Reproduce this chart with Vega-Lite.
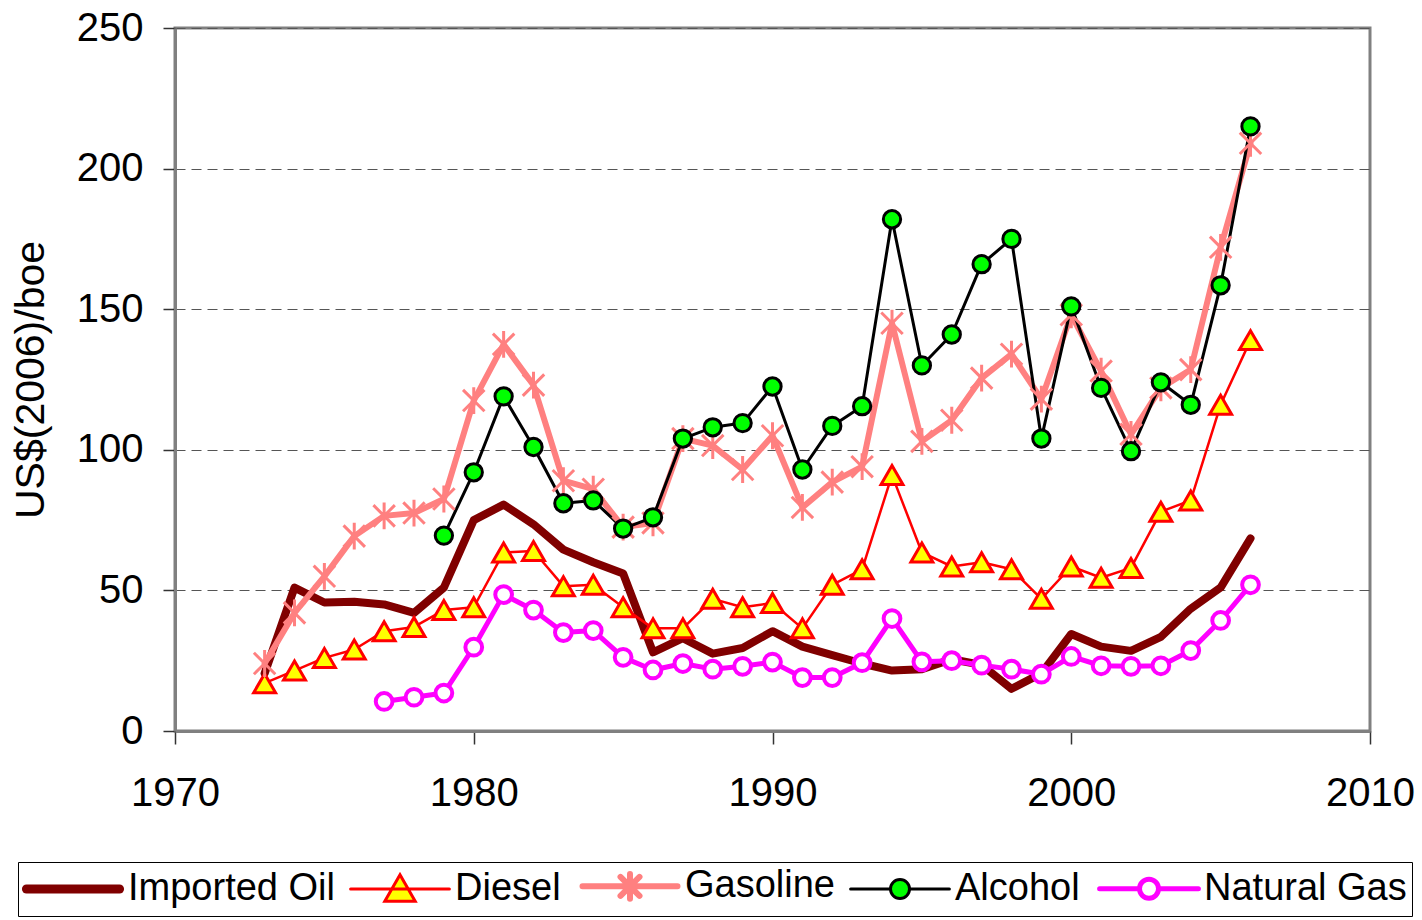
{
  "$schema": "https://vega.github.io/schema/vega-lite/v6.json",
  "width": 1195,
  "height": 703,
  "autosize": {"type": "none"},
  "padding": {"left": 175, "top": 28, "right": 52, "bottom": 189},
  "background": "white",
  "data": {
    "values": [
      {"year": 1973, "fuel": "Imported Oil", "value": 20.5},
      {"year": 1974, "fuel": "Imported Oil", "value": 51},
      {"year": 1975, "fuel": "Imported Oil", "value": 45.7},
      {"year": 1976, "fuel": "Imported Oil", "value": 46},
      {"year": 1977, "fuel": "Imported Oil", "value": 45},
      {"year": 1978, "fuel": "Imported Oil", "value": 42},
      {"year": 1979, "fuel": "Imported Oil", "value": 51},
      {"year": 1980, "fuel": "Imported Oil", "value": 75},
      {"year": 1981, "fuel": "Imported Oil", "value": 80.5},
      {"year": 1982, "fuel": "Imported Oil", "value": 73.5},
      {"year": 1983, "fuel": "Imported Oil", "value": 64.5},
      {"year": 1984, "fuel": "Imported Oil", "value": 60},
      {"year": 1985, "fuel": "Imported Oil", "value": 56},
      {"year": 1986, "fuel": "Imported Oil", "value": 28},
      {"year": 1987, "fuel": "Imported Oil", "value": 33},
      {"year": 1988, "fuel": "Imported Oil", "value": 27.5},
      {"year": 1989, "fuel": "Imported Oil", "value": 29.5},
      {"year": 1990, "fuel": "Imported Oil", "value": 35.5},
      {"year": 1991, "fuel": "Imported Oil", "value": 30},
      {"year": 1992, "fuel": "Imported Oil", "value": 27},
      {"year": 1993, "fuel": "Imported Oil", "value": 24},
      {"year": 1994, "fuel": "Imported Oil", "value": 21.5},
      {"year": 1995, "fuel": "Imported Oil", "value": 22},
      {"year": 1996, "fuel": "Imported Oil", "value": 25.5},
      {"year": 1997, "fuel": "Imported Oil", "value": 23.5},
      {"year": 1998, "fuel": "Imported Oil", "value": 15},
      {"year": 1999, "fuel": "Imported Oil", "value": 20.5},
      {"year": 2000, "fuel": "Imported Oil", "value": 34.5},
      {"year": 2001, "fuel": "Imported Oil", "value": 30},
      {"year": 2002, "fuel": "Imported Oil", "value": 28.5},
      {"year": 2003, "fuel": "Imported Oil", "value": 33.5},
      {"year": 2004, "fuel": "Imported Oil", "value": 43.5},
      {"year": 2005, "fuel": "Imported Oil", "value": 51},
      {"year": 2006, "fuel": "Imported Oil", "value": 68.5},
      {"year": 1973, "fuel": "Diesel", "value": 17},
      {"year": 1974, "fuel": "Diesel", "value": 21.5},
      {"year": 1975, "fuel": "Diesel", "value": 26},
      {"year": 1976, "fuel": "Diesel", "value": 29},
      {"year": 1977, "fuel": "Diesel", "value": 35.5},
      {"year": 1978, "fuel": "Diesel", "value": 37},
      {"year": 1979, "fuel": "Diesel", "value": 43},
      {"year": 1980, "fuel": "Diesel", "value": 44},
      {"year": 1981, "fuel": "Diesel", "value": 63.5},
      {"year": 1982, "fuel": "Diesel", "value": 64},
      {"year": 1983, "fuel": "Diesel", "value": 51.5},
      {"year": 1984, "fuel": "Diesel", "value": 52},
      {"year": 1985, "fuel": "Diesel", "value": 44},
      {"year": 1986, "fuel": "Diesel", "value": 36.5},
      {"year": 1987, "fuel": "Diesel", "value": 36.5},
      {"year": 1988, "fuel": "Diesel", "value": 47},
      {"year": 1989, "fuel": "Diesel", "value": 44},
      {"year": 1990, "fuel": "Diesel", "value": 45.5},
      {"year": 1991, "fuel": "Diesel", "value": 36.5},
      {"year": 1992, "fuel": "Diesel", "value": 52},
      {"year": 1993, "fuel": "Diesel", "value": 57.5},
      {"year": 1994, "fuel": "Diesel", "value": 91},
      {"year": 1995, "fuel": "Diesel", "value": 63.5},
      {"year": 1996, "fuel": "Diesel", "value": 58.5},
      {"year": 1997, "fuel": "Diesel", "value": 60},
      {"year": 1998, "fuel": "Diesel", "value": 57.5},
      {"year": 1999, "fuel": "Diesel", "value": 47},
      {"year": 2000, "fuel": "Diesel", "value": 58.5},
      {"year": 2001, "fuel": "Diesel", "value": 54.5},
      {"year": 2002, "fuel": "Diesel", "value": 58},
      {"year": 2003, "fuel": "Diesel", "value": 78},
      {"year": 2004, "fuel": "Diesel", "value": 82},
      {"year": 2005, "fuel": "Diesel", "value": 116},
      {"year": 2006, "fuel": "Diesel", "value": 139},
      {"year": 1973, "fuel": "Gasoline", "value": 24},
      {"year": 1974, "fuel": "Gasoline", "value": 42},
      {"year": 1975, "fuel": "Gasoline", "value": 55},
      {"year": 1976, "fuel": "Gasoline", "value": 69.3},
      {"year": 1977, "fuel": "Gasoline", "value": 76.5},
      {"year": 1978, "fuel": "Gasoline", "value": 77.5},
      {"year": 1979, "fuel": "Gasoline", "value": 82.5},
      {"year": 1980, "fuel": "Gasoline", "value": 117.5},
      {"year": 1981, "fuel": "Gasoline", "value": 137.5},
      {"year": 1982, "fuel": "Gasoline", "value": 123},
      {"year": 1983, "fuel": "Gasoline", "value": 89},
      {"year": 1984, "fuel": "Gasoline", "value": 86},
      {"year": 1985, "fuel": "Gasoline", "value": 72.5},
      {"year": 1986, "fuel": "Gasoline", "value": 74},
      {"year": 1987, "fuel": "Gasoline", "value": 104},
      {"year": 1988, "fuel": "Gasoline", "value": 101.5},
      {"year": 1989, "fuel": "Gasoline", "value": 93},
      {"year": 1990, "fuel": "Gasoline", "value": 105},
      {"year": 1991, "fuel": "Gasoline", "value": 79.5},
      {"year": 1992, "fuel": "Gasoline", "value": 88.5},
      {"year": 1993, "fuel": "Gasoline", "value": 94},
      {"year": 1994, "fuel": "Gasoline", "value": 145},
      {"year": 1995, "fuel": "Gasoline", "value": 103},
      {"year": 1996, "fuel": "Gasoline", "value": 110.5},
      {"year": 1997, "fuel": "Gasoline", "value": 125.5},
      {"year": 1998, "fuel": "Gasoline", "value": 134},
      {"year": 1999, "fuel": "Gasoline", "value": 118},
      {"year": 2000, "fuel": "Gasoline", "value": 148},
      {"year": 2001, "fuel": "Gasoline", "value": 128},
      {"year": 2002, "fuel": "Gasoline", "value": 105.5},
      {"year": 2003, "fuel": "Gasoline", "value": 122},
      {"year": 2004, "fuel": "Gasoline", "value": 128.5},
      {"year": 2005, "fuel": "Gasoline", "value": 172},
      {"year": 2006, "fuel": "Gasoline", "value": 209},
      {"year": 1979, "fuel": "Alcohol", "value": 69.5},
      {"year": 1980, "fuel": "Alcohol", "value": 92},
      {"year": 1981, "fuel": "Alcohol", "value": 119},
      {"year": 1982, "fuel": "Alcohol", "value": 101},
      {"year": 1983, "fuel": "Alcohol", "value": 81},
      {"year": 1984, "fuel": "Alcohol", "value": 82},
      {"year": 1985, "fuel": "Alcohol", "value": 72},
      {"year": 1986, "fuel": "Alcohol", "value": 76},
      {"year": 1987, "fuel": "Alcohol", "value": 104},
      {"year": 1988, "fuel": "Alcohol", "value": 108},
      {"year": 1989, "fuel": "Alcohol", "value": 109.5},
      {"year": 1990, "fuel": "Alcohol", "value": 122.5},
      {"year": 1991, "fuel": "Alcohol", "value": 93},
      {"year": 1992, "fuel": "Alcohol", "value": 108.5},
      {"year": 1993, "fuel": "Alcohol", "value": 115.5},
      {"year": 1994, "fuel": "Alcohol", "value": 182},
      {"year": 1995, "fuel": "Alcohol", "value": 130},
      {"year": 1996, "fuel": "Alcohol", "value": 141},
      {"year": 1997, "fuel": "Alcohol", "value": 166},
      {"year": 1998, "fuel": "Alcohol", "value": 175},
      {"year": 1999, "fuel": "Alcohol", "value": 104},
      {"year": 2000, "fuel": "Alcohol", "value": 151},
      {"year": 2001, "fuel": "Alcohol", "value": 122},
      {"year": 2002, "fuel": "Alcohol", "value": 99.5},
      {"year": 2003, "fuel": "Alcohol", "value": 124},
      {"year": 2004, "fuel": "Alcohol", "value": 116},
      {"year": 2005, "fuel": "Alcohol", "value": 158.5},
      {"year": 2006, "fuel": "Alcohol", "value": 215},
      {"year": 1977, "fuel": "Natural Gas", "value": 10.5},
      {"year": 1978, "fuel": "Natural Gas", "value": 12},
      {"year": 1979, "fuel": "Natural Gas", "value": 13.5},
      {"year": 1980, "fuel": "Natural Gas", "value": 29.8},
      {"year": 1981, "fuel": "Natural Gas", "value": 48.5},
      {"year": 1982, "fuel": "Natural Gas", "value": 43},
      {"year": 1983, "fuel": "Natural Gas", "value": 35},
      {"year": 1984, "fuel": "Natural Gas", "value": 35.7},
      {"year": 1985, "fuel": "Natural Gas", "value": 26.2},
      {"year": 1986, "fuel": "Natural Gas", "value": 21.7},
      {"year": 1987, "fuel": "Natural Gas", "value": 24},
      {"year": 1988, "fuel": "Natural Gas", "value": 22},
      {"year": 1989, "fuel": "Natural Gas", "value": 23},
      {"year": 1990, "fuel": "Natural Gas", "value": 24.5},
      {"year": 1991, "fuel": "Natural Gas", "value": 19},
      {"year": 1992, "fuel": "Natural Gas", "value": 19},
      {"year": 1993, "fuel": "Natural Gas", "value": 24.3},
      {"year": 1994, "fuel": "Natural Gas", "value": 40},
      {"year": 1995, "fuel": "Natural Gas", "value": 24.6},
      {"year": 1996, "fuel": "Natural Gas", "value": 25},
      {"year": 1997, "fuel": "Natural Gas", "value": 23.4},
      {"year": 1998, "fuel": "Natural Gas", "value": 22},
      {"year": 1999, "fuel": "Natural Gas", "value": 20.2},
      {"year": 2000, "fuel": "Natural Gas", "value": 26.5},
      {"year": 2001, "fuel": "Natural Gas", "value": 23.2},
      {"year": 2002, "fuel": "Natural Gas", "value": 23},
      {"year": 2003, "fuel": "Natural Gas", "value": 23.2},
      {"year": 2004, "fuel": "Natural Gas", "value": 28.6},
      {"year": 2005, "fuel": "Natural Gas", "value": 39.3},
      {"year": 2006, "fuel": "Natural Gas", "value": 52}
    ]
  },
  "encoding": {
    "x": {
      "field": "year",
      "type": "quantitative",
      "scale": {"domain": [1970, 2010], "nice": false, "zero": false},
      "axis": {
        "title": null,
        "values": [1970, 1980, 1990, 2000, 2010],
        "format": "d",
        "grid": false,
        "tickSize": 13,
        "labelPadding": 29,
        "labelFlush": false,
        "labelOverlap": false
      }
    },
    "y": {
      "field": "value",
      "type": "quantitative",
      "scale": {"domain": [0, 250], "nice": false},
      "axis": {
        "title": "US$(2006)/boe",
        "values": [0, 50, 100, 150, 200, 250],
        "grid": true,
        "gridDash": [10, 6],
        "gridColor": "#555555",
        "gridWidth": 1,
        "tickSize": 12,
        "labelPadding": 20,
        "labelFlush": false,
        "labelOverlap": false,
        "titleX": -144,
        "titleY": 351.5,
        "titleAngle": -90,
        "titleBaseline": "middle",
        "titleAlign": "center"
      }
    }
  },
  "layer": [
    {
      "mark": {"type": "line", "strokeJoin": "round", "strokeCap": "round"},
      "encoding": {
        "color": {
          "field": "fuel",
          "type": "nominal",
          "scale": {
            "domain": ["Imported Oil", "Diesel", "Gasoline", "Alcohol", "Natural Gas"],
            "range": ["#800000", "#FF0000", "#FF8080", "#000000", "#FF00FF"]
          },
          "legend": {
            "title": null,
            "orient": "none",
            "legendX": -157,
            "legendY": 834,
            "direction": "horizontal",
            "fillColor": "white",
            "strokeColor": "#000000",
            "padding": 5,
            "columnPadding": 9,
            "labelFont": "Liberation Sans",
            "labelFontSize": 38,
            "labelColor": "#000000",
            "labelLimit": 0,
            "symbolSize": 1444,
            "symbolStrokeWidth": 3,
            "symbolOffset": 31,
            "labelOffset": 36,
            "encode": {
              "symbols": {
                "update": {
                  "shape": {"signal": "datum.value === 'Imported Oil' ? 'M-2.45,0H2.45' : datum.value === 'Diesel' ? 'M-2.6,0H2.6M0,-0.75L0.8,0.64H-0.8Z' : datum.value === 'Gasoline' ? 'M-2.5,0H2.5M-0.5,-0.5L0.5,0.5M0.5,-0.5L-0.5,0.5M0,-0.65V0.65' : 'M-2.6,0H-0.5A0.5,0.5 0 1,1 0.5,0A0.5,0.5 0 1,1 -0.5,0M0.5,0H2.6'"},
                  "fill": {"signal": "datum.value === 'Diesel' ? '#FFFF00' : datum.value === 'Alcohol' ? '#00FF00' : datum.value === 'Natural Gas' ? '#FFFFFF' : 'transparent'"},
                  "stroke": {"signal": "scale('color', datum.value)"},
                  "strokeWidth": {"signal": "datum.value === 'Imported Oil' ? 9 : datum.value === 'Gasoline' ? 6 : datum.value === 'Natural Gas' ? 5 : 3"},
                  "strokeCap": {"value": "round"},
                  "opacity": {"value": 1}
                }
              }
            }
          }
        },
        "strokeWidth": {
          "condition": [
            {"test": "datum.fuel === 'Imported Oil'", "value": 8},
            {"test": "datum.fuel === 'Gasoline'", "value": 6},
            {"test": "datum.fuel === 'Natural Gas'", "value": 5},
            {"test": "datum.fuel === 'Alcohol'", "value": 3}
          ],
          "value": 2.5
        }
      }
    },
    {
      "transform": [{"filter": "datum.fuel === 'Diesel'"}],
      "mark": {"type": "point", "shape": "triangle-up", "size": 480, "filled": true, "fill": "#FFFF00", "stroke": "#FF0000", "strokeWidth": 3, "opacity": 1}
    },
    {
      "transform": [{"filter": "datum.fuel === 'Gasoline'"}],
      "mark": {"type": "point", "shape": "M-1,-1L1,1M1,-1L-1,1M0,-1.25V1.25", "size": 460, "filled": false, "stroke": "#FF8080", "strokeWidth": 3, "opacity": 1}
    },
    {
      "transform": [{"filter": "datum.fuel === 'Alcohol'"}],
      "mark": {"type": "point", "shape": "circle", "size": 300, "filled": true, "fill": "#00FF00", "stroke": "#000000", "strokeWidth": 3, "opacity": 1}
    },
    {
      "transform": [{"filter": "datum.fuel === 'Natural Gas'"}],
      "mark": {"type": "point", "shape": "circle", "size": 280, "filled": true, "fill": "#FFFFFF", "stroke": "#FF00FF", "strokeWidth": 4, "opacity": 1}
    }
  ],
  "config": {
    "view": {"stroke": "#808080", "strokeWidth": 3},
    "axis": {
      "domainColor": "#808080",
      "domainWidth": 3,
      "tickColor": "#333333",
      "tickWidth": 1.5,
      "labelFont": "Liberation Sans",
      "labelFontSize": 40,
      "labelColor": "#000000",
      "titleFont": "Liberation Sans",
      "titleFontSize": 41,
      "titleFontWeight": "normal",
      "titleColor": "#000000"
    }
  }
}
